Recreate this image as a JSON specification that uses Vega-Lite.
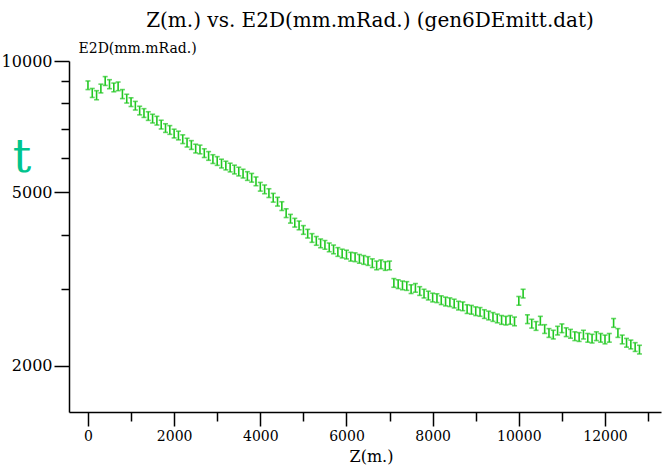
{
  "$schema": "https://vega.github.io/schema/vega-lite/v6.json",
  "width": 592,
  "height": 351,
  "autosize": {"type": "none"},
  "padding": {"left": 69, "top": 61, "right": 9, "bottom": 60},
  "background": "white",
  "config": {
    "view": {"stroke": null},
    "font": "DejaVu Serif",
    "axis": {"grid": false, "domainColor": "black", "domainWidth": 1.5, "tickColor": "black", "tickWidth": 1.5, "labelColor": "black", "titleColor": "black", "labelFont": "DejaVu Serif", "titleFont": "DejaVu Serif", "titleFontWeight": "normal"}
  },
  "title": {
    "text": "Z(m.) vs. E2D(mm.mRad.) (gen6DEmitt.dat)",
    "font": "DejaVu Serif",
    "fontSize": 20,
    "fontWeight": "normal",
    "color": "black",
    "anchor": "middle",
    "frame": "group",
    "dx": 5,
    "offset": 10
  },
  "layer": [
    {
      "data": {
        "values": [
          {"z": 0, "e2d": 8800, "err": 200}, {"z": 100, "e2d": 8450, "err": 200}, {"z": 200, "e2d": 8350, "err": 200}, {"z": 300, "e2d": 8650, "err": 200}, {"z": 400, "e2d": 9000, "err": 210},
          {"z": 500, "e2d": 8850, "err": 210}, {"z": 600, "e2d": 8700, "err": 200}, {"z": 700, "e2d": 8750, "err": 200}, {"z": 800, "e2d": 8400, "err": 200}, {"z": 900, "e2d": 8200, "err": 190},
          {"z": 1000, "e2d": 8050, "err": 185}, {"z": 1100, "e2d": 7900, "err": 180}, {"z": 1200, "e2d": 7700, "err": 175}, {"z": 1300, "e2d": 7600, "err": 175}, {"z": 1400, "e2d": 7480, "err": 170},
          {"z": 1500, "e2d": 7380, "err": 170}, {"z": 1600, "e2d": 7300, "err": 168}, {"z": 1700, "e2d": 7150, "err": 165}, {"z": 1800, "e2d": 7020, "err": 160}, {"z": 1900, "e2d": 6950, "err": 160},
          {"z": 2000, "e2d": 6820, "err": 157}, {"z": 2100, "e2d": 6750, "err": 155}, {"z": 2200, "e2d": 6620, "err": 152}, {"z": 2300, "e2d": 6500, "err": 150}, {"z": 2400, "e2d": 6420, "err": 148},
          {"z": 2500, "e2d": 6300, "err": 145}, {"z": 2600, "e2d": 6270, "err": 144}, {"z": 2700, "e2d": 6150, "err": 141}, {"z": 2800, "e2d": 6060, "err": 139}, {"z": 2900, "e2d": 5960, "err": 137},
          {"z": 3000, "e2d": 5900, "err": 136}, {"z": 3100, "e2d": 5820, "err": 134}, {"z": 3200, "e2d": 5760, "err": 132}, {"z": 3300, "e2d": 5700, "err": 131}, {"z": 3400, "e2d": 5640, "err": 130},
          {"z": 3500, "e2d": 5580, "err": 128}, {"z": 3600, "e2d": 5520, "err": 127}, {"z": 3700, "e2d": 5450, "err": 125}, {"z": 3800, "e2d": 5400, "err": 124}, {"z": 3900, "e2d": 5300, "err": 122},
          {"z": 4000, "e2d": 5150, "err": 118}, {"z": 4100, "e2d": 5080, "err": 117}, {"z": 4200, "e2d": 4980, "err": 115}, {"z": 4300, "e2d": 4860, "err": 112}, {"z": 4400, "e2d": 4760, "err": 110},
          {"z": 4500, "e2d": 4650, "err": 107}, {"z": 4600, "e2d": 4480, "err": 103}, {"z": 4700, "e2d": 4350, "err": 100}, {"z": 4800, "e2d": 4260, "err": 98}, {"z": 4900, "e2d": 4200, "err": 97},
          {"z": 5000, "e2d": 4100, "err": 94}, {"z": 5100, "e2d": 4020, "err": 92}, {"z": 5200, "e2d": 3930, "err": 90}, {"z": 5300, "e2d": 3870, "err": 89}, {"z": 5400, "e2d": 3820, "err": 88},
          {"z": 5500, "e2d": 3790, "err": 87}, {"z": 5600, "e2d": 3740, "err": 86}, {"z": 5700, "e2d": 3700, "err": 85}, {"z": 5800, "e2d": 3650, "err": 84}, {"z": 5900, "e2d": 3620, "err": 83},
          {"z": 6000, "e2d": 3600, "err": 83}, {"z": 6100, "e2d": 3560, "err": 82}, {"z": 6200, "e2d": 3550, "err": 82}, {"z": 6300, "e2d": 3520, "err": 81}, {"z": 6400, "e2d": 3500, "err": 81},
          {"z": 6500, "e2d": 3480, "err": 80}, {"z": 6600, "e2d": 3440, "err": 79}, {"z": 6700, "e2d": 3400, "err": 78}, {"z": 6800, "e2d": 3420, "err": 79}, {"z": 6900, "e2d": 3390, "err": 78},
          {"z": 7000, "e2d": 3400, "err": 78}, {"z": 7100, "e2d": 3100, "err": 71}, {"z": 7200, "e2d": 3080, "err": 71}, {"z": 7300, "e2d": 3060, "err": 70}, {"z": 7400, "e2d": 3050, "err": 70},
          {"z": 7500, "e2d": 3000, "err": 69}, {"z": 7600, "e2d": 3020, "err": 69}, {"z": 7700, "e2d": 2970, "err": 68}, {"z": 7800, "e2d": 2930, "err": 67}, {"z": 7900, "e2d": 2900, "err": 67},
          {"z": 8000, "e2d": 2870, "err": 66}, {"z": 8100, "e2d": 2860, "err": 66}, {"z": 8200, "e2d": 2830, "err": 65}, {"z": 8300, "e2d": 2810, "err": 65}, {"z": 8400, "e2d": 2800, "err": 64},
          {"z": 8500, "e2d": 2780, "err": 64}, {"z": 8600, "e2d": 2750, "err": 63}, {"z": 8700, "e2d": 2740, "err": 63}, {"z": 8800, "e2d": 2700, "err": 62}, {"z": 8900, "e2d": 2690, "err": 62},
          {"z": 9000, "e2d": 2670, "err": 61}, {"z": 9100, "e2d": 2660, "err": 61}, {"z": 9200, "e2d": 2630, "err": 60}, {"z": 9300, "e2d": 2610, "err": 60}, {"z": 9400, "e2d": 2590, "err": 60},
          {"z": 9500, "e2d": 2570, "err": 59}, {"z": 9600, "e2d": 2550, "err": 59}, {"z": 9700, "e2d": 2540, "err": 58}, {"z": 9800, "e2d": 2550, "err": 59}, {"z": 9900, "e2d": 2530, "err": 58},
          {"z": 10000, "e2d": 2820, "err": 65}, {"z": 10100, "e2d": 2930, "err": 67}, {"z": 10200, "e2d": 2560, "err": 59}, {"z": 10300, "e2d": 2500, "err": 58}, {"z": 10400, "e2d": 2470, "err": 57},
          {"z": 10500, "e2d": 2540, "err": 58}, {"z": 10600, "e2d": 2430, "err": 56}, {"z": 10700, "e2d": 2380, "err": 55}, {"z": 10800, "e2d": 2360, "err": 54}, {"z": 10900, "e2d": 2410, "err": 55},
          {"z": 11000, "e2d": 2440, "err": 56}, {"z": 11100, "e2d": 2390, "err": 55}, {"z": 11200, "e2d": 2370, "err": 55}, {"z": 11300, "e2d": 2340, "err": 54}, {"z": 11400, "e2d": 2330, "err": 54},
          {"z": 11500, "e2d": 2360, "err": 54}, {"z": 11600, "e2d": 2320, "err": 53}, {"z": 11700, "e2d": 2310, "err": 53}, {"z": 11800, "e2d": 2340, "err": 54}, {"z": 11900, "e2d": 2320, "err": 53},
          {"z": 12000, "e2d": 2300, "err": 53}, {"z": 12100, "e2d": 2320, "err": 53}, {"z": 12200, "e2d": 2510, "err": 58}, {"z": 12300, "e2d": 2380, "err": 55}, {"z": 12400, "e2d": 2300, "err": 53},
          {"z": 12500, "e2d": 2260, "err": 52}, {"z": 12600, "e2d": 2240, "err": 52}, {"z": 12700, "e2d": 2210, "err": 51}, {"z": 12800, "e2d": 2180, "err": 50}
        ]
      },
      "mark": {"type": "errorbar", "color": "#22c822", "thickness": 1.6, "ticks": {"size": 5, "thickness": 1.6, "color": "#22c822"}},
      "encoding": {
        "x": {
          "field": "z", "type": "quantitative",
          "scale": {"domain": [-440, 13300], "nice": false, "zero": false},
          "axis": {
            "title": "Z(m.)",
            "titleFontSize": 16,
            "titlePadding": 5,
            "titleX": 302,
            "values": [0, 1000, 2000, 3000, 4000, 5000, 6000, 7000, 8000, 9000, 10000, 11000, 12000, 13000],
            "labelExpr": "datum.value % 2000 == 0 ? format(datum.value, 'd') : ''",
            "labelFontSize": 14,
            "labelPadding": 3,
            "labelFlush": false,
            "labelOverlap": false,
            "tickSize": {"condition": {"test": "datum.value % 2000 == 0", "value": 14}, "value": 9}
          }
        },
        "y": {
          "field": "e2d", "type": "quantitative",
          "scale": {"type": "log", "domain": [1568, 10000], "nice": false},
          "axis": {
            "title": "E2D(mm.mRad.)",
            "titleFontSize": 14,
            "titleAngle": 0,
            "titleAlign": "left",
            "titleBaseline": "alphabetic",
            "titleX": 9,
            "titleY": -9,
            "values": [2000, 3000, 4000, 5000, 6000, 7000, 8000, 9000, 10000],
            "labelExpr": "datum.value == 2000 || datum.value == 5000 || datum.value == 10000 ? format(datum.value, 'd') : ''",
            "labelFontSize": 16,
            "labelPadding": 2,
            "labelOverlap": false,
            "labelFlush": false,
            "tickSize": {"condition": {"test": "datum.value == 2000 || datum.value == 5000 || datum.value == 10000", "value": 15}, "value": 8}
          }
        },
        "yError": {"field": "err"}
      }
    },
    {
      "data": {"values": [{"label": "t"}]},
      "mark": {"type": "text", "font": "DejaVu Serif", "fontSize": 46, "color": "#00c48e", "baseline": "alphabetic", "align": "center"},
      "encoding": {
        "text": {"field": "label"},
        "x": {"datum": -1530, "type": "quantitative"},
        "y": {"datum": 5560, "type": "quantitative"}
      }
    }
  ]
}
